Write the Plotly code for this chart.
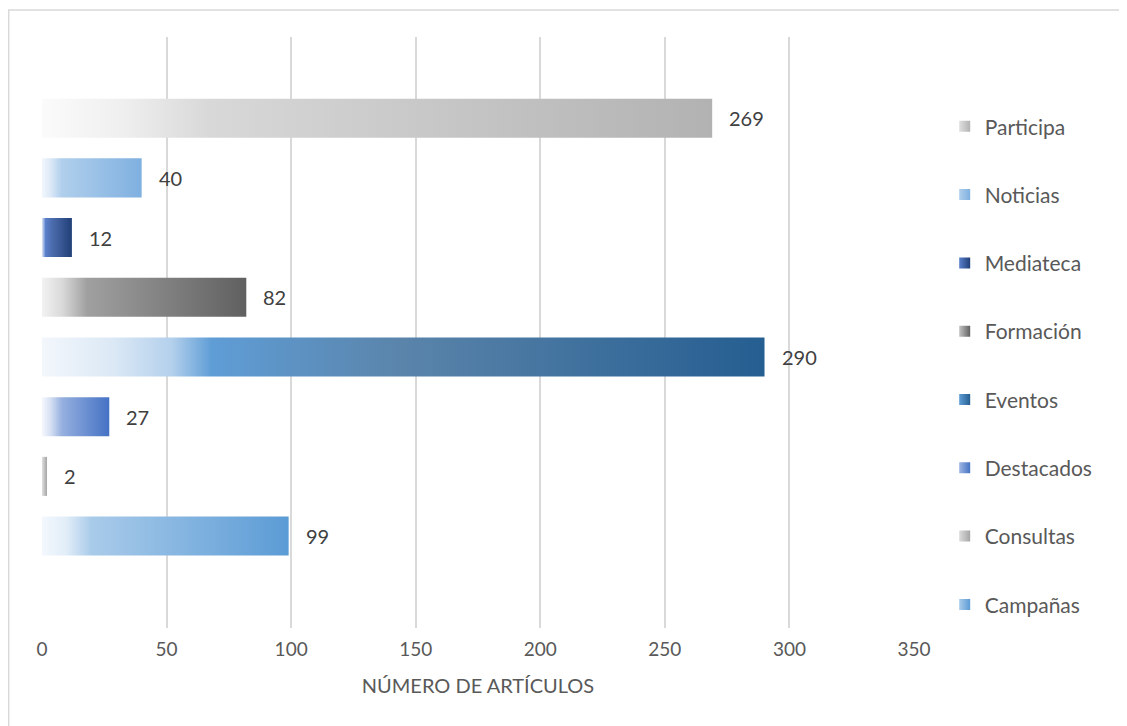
import plotly.graph_objects as go

categories = ["Campañas", "Consultas", "Destacados", "Eventos",
              "Formación", "Mediateca", "Noticias", "Participa"]
values = [99, 2, 27, 290, 82, 12, 40, 269]
x_ticks = [0, 50, 100, 150, 200, 250, 300, 350]
x_title = "NÚMERO DE ARTÍCULOS"

gradients = {
    "Campañas": [[0, "#f3f8fd"], [0.1, "#e1edf8"], [0.2, "#a9cbea"], [1, "#5b9bd5"]],
    "Consultas": [[0, "#e0e0e0"], [1, "#a5a5a5"]],
    "Destacados": [[0, "#f5f8fd"], [0.12, "#d8e2f4"], [0.3, "#95afdf"], [1, "#4472c4"]],
    "Eventos": [[0, "#f3f7fc"], [0.1, "#dbe8f5"], [0.18, "#b3d0ec"], [0.235, "#5f9dd6"],
                [0.5, "#5a84aa"], [1, "#255e91"]],
    "Formación": [[0, "#f2f2f2"], [0.1, "#d9d9d9"], [0.22, "#a0a0a0"], [1, "#606060"]],
    "Mediateca": [[0, "#dde6f6"], [0.12, "#5a80cc"], [0.3, "#4e6fb0"], [1, "#213f77"]],
    "Noticias": [[0, "#f2f7fd"], [0.08, "#deeaf7"], [0.2, "#b0cfec"], [1, "#7fb0e0"]],
    "Participa": [[0, "#fbfbfb"], [0.12, "#efefef"], [0.25, "#d8d8d8"], [1, "#b2b2b2"]],
}
legend_light = {
    "Campañas": "#a9cbea", "Consultas": "#dcdcdc", "Destacados": "#9fb5e2",
    "Eventos": "#5f9dd6", "Formación": "#c4c4c4", "Mediateca": "#5a80cc",
    "Noticias": "#b0cfec", "Participa": "#e0e0e0",
}

FONT = "Lato, 'Open Sans', sans-serif"
HALF = 0.327

fig = go.Figure()
for i, (cat, v) in enumerate(zip(categories, values)):
    xs = [0, v, v, 0, 0]
    ys = [i - HALF, i - HALF, i + HALF, i + HALF, i - HALF]
    end_col = gradients[cat][-1][1]
    fig.add_trace(go.Scatter(
        x=xs, y=ys, mode="lines", fill="toself", name=cat,
        line=dict(width=0, color=end_col),
        fillcolor=end_col,
        fillgradient=dict(type="horizontal", colorscale=gradients[cat]),
        legendgroup=cat, showlegend=False,
        hoverinfo="text", text=f"{cat}: {v}",
    ))
    fig.add_trace(go.Scatter(
        x=[None], y=[None], mode="markers", name=cat, legendgroup=cat,
        legendrank=100 - i,
        marker=dict(symbol="square", size=11, color=legend_light[cat],
                    gradient=dict(type="horizontal", color=end_col)),
        hoverinfo="skip",
    ))

for i, v in enumerate(values):
    fig.add_annotation(x=v, y=i, text=str(v), showarrow=False, xanchor="left",
                       xshift=15, font=dict(family=FONT, size=20, color="#404040"))

fig.add_shape(type="rect", xref="paper", yref="paper", x0=-0.0382, x1=1.5,
              y0=-0.3, y1=1.0457, line=dict(color="#d9d9d9", width=1.5),
              fillcolor="rgba(0,0,0,0)", layer="below")

fig.update_layout(
    width=1119, height=718,
    margin=dict(l=34, r=213, t=29, b=98),
    paper_bgcolor="white", plot_bgcolor="white",
    font=dict(family=FONT, color="#595959"),
    xaxis=dict(range=[0, 350], tickvals=x_ticks, showgrid=True, gridcolor="#d9d9d9",
               gridwidth=2, zeroline=False, showline=False,
               ticks="outside", ticklen=4, tickcolor="rgba(0,0,0,0)",
               tickfont=dict(size=19, color="#595959"),
               title=dict(text=x_title, font=dict(size=20, color="#595959"), standoff=20)),
    yaxis=dict(type="linear", range=[-1.54, 8.36], showticklabels=False, showgrid=False,
               zeroline=False, showline=False, ticks=""),
    legend=dict(x=1.0352, y=0.883, xanchor="left", yanchor="top",
                traceorder="grouped", tracegroupgap=38, itemwidth=30,
                font=dict(family=FONT, size=21, color="#595959")),
    showlegend=True,
)

fig.write_html("out.html")
